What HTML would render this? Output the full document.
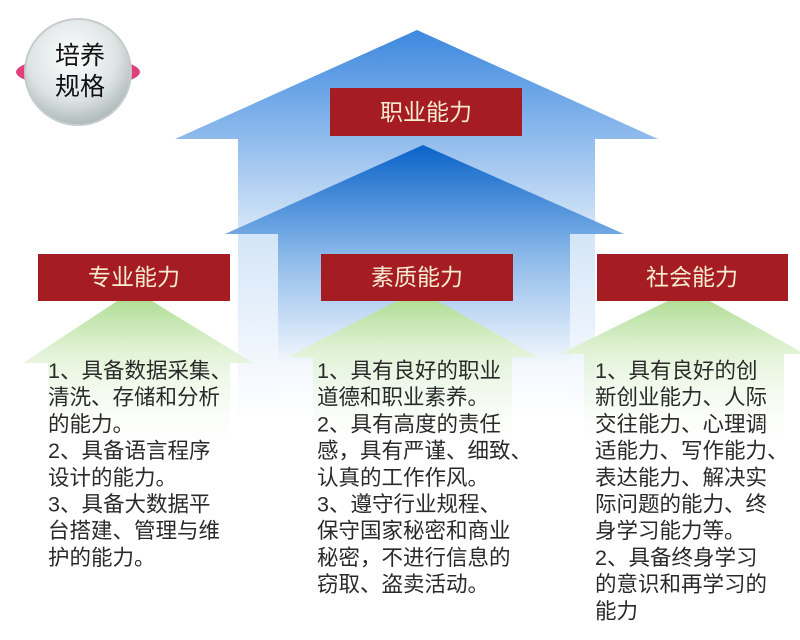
<!DOCTYPE html>
<html><head><meta charset="utf-8"><style>
body{margin:0;background:#fff;}
svg text{font-family:"Liberation Sans","Noto Sans CJK SC",sans-serif;}
</style></head><body>
<svg width="800" height="635" viewBox="0 0 800 635" xmlns="http://www.w3.org/2000/svg">
<defs>
<linearGradient id="b1" x1="0" y1="30" x2="0" y2="420" gradientUnits="userSpaceOnUse">
<stop offset="0" stop-color="#3d88df"/><stop offset="0.5" stop-color="#d2e4f7"/><stop offset="1" stop-color="#ffffff"/></linearGradient>
<linearGradient id="b2" x1="0" y1="145" x2="0" y2="420" gradientUnits="userSpaceOnUse">
<stop offset="0" stop-color="#0a63c9"/><stop offset="0.4" stop-color="#8ab8e9"/><stop offset="0.8" stop-color="#f4f8fd"/><stop offset="1" stop-color="#ffffff"/></linearGradient>
<linearGradient id="g" x1="0" y1="0" x2="0" y2="1">
<stop offset="0" stop-color="#a8d98a"/><stop offset="0.35" stop-color="#e0f2d4"/><stop offset="1" stop-color="#ffffff" stop-opacity="0"/></linearGradient>
<radialGradient id="c" cx="0.45" cy="0.35" r="0.7">
<stop offset="0" stop-color="#ffffff"/><stop offset="0.6" stop-color="#dde3e3"/><stop offset="1" stop-color="#a4b0b0"/></radialGradient>
</defs>
<polygon points="417,30 658,139 595,139 595,635 238,635 238,139 175,139" fill="url(#b1)"/>
<polygon points="423,145 624,234 570,234 570,635 278,635 278,234 225,234" fill="url(#b2)"/>
<polygon points="134,290 253,363 230,363 230,460 48,460 48,363 23,363" fill="url(#g)"/>
<polygon points="418,290 538,357 512,357 512,460 313,460 313,357 288,357" fill="url(#g)"/>
<polygon points="690,290 805,354 784,354 784,460 584,460 584,354 560,354" fill="url(#g)"/>
<g fill="#a51d22">
<rect x="330" y="88" width="192" height="48"/>
<rect x="38" y="254" width="192" height="47"/>
<rect x="321" y="254" width="192" height="47"/>
<rect x="597" y="254" width="191" height="47"/>
</g>
<g font-size="23" fill="#f7ecd2" text-anchor="middle">
<text x="426" y="120">职业能力</text>
<text x="134" y="285">专业能力</text>
<text x="417" y="285">素质能力</text>
<text x="692" y="285">社会能力</text>
</g>
<ellipse cx="78" cy="72" rx="62" ry="15" fill="#e0407a"/>
<circle cx="78" cy="72" r="53" fill="url(#c)" stroke="#c5cccc" stroke-width="2"/>
<text x="80" y="64" font-size="25" fill="#111" text-anchor="middle">培养</text>
<text x="80" y="95" font-size="25" fill="#111" text-anchor="middle">规格</text>
<g font-size="21.5" fill="#2a2a2a">
<text x="48" y="378">1、具备数据采集、</text>
<text x="48" y="404.7">清洗、存储和分析</text>
<text x="48" y="431.4">的能力。</text>
<text x="48" y="458.1">2、具备语言程序</text>
<text x="48" y="484.8">设计的能力。</text>
<text x="48" y="511.5">3、具备大数据平</text>
<text x="48" y="538.2">台搭建、管理与维</text>
<text x="48" y="564.9">护的能力。</text>
<text x="317" y="378">1、具有良好的职业</text>
<text x="317" y="404.7">道德和职业素养。</text>
<text x="317" y="431.4">2、具有高度的责任</text>
<text x="317" y="458.1">感，具有严谨、细致、</text>
<text x="317" y="484.8">认真的工作作风。</text>
<text x="317" y="511.5">3、遵守行业规程、</text>
<text x="317" y="538.2">保守国家秘密和商业</text>
<text x="317" y="564.9">秘密，不进行信息的</text>
<text x="317" y="591.6">窃取、盗卖活动。</text>
<text x="595" y="378">1、具有良好的创</text>
<text x="595" y="404.7">新创业能力、人际</text>
<text x="595" y="431.4">交往能力、心理调</text>
<text x="595" y="458.1">适能力、写作能力、</text>
<text x="595" y="484.8">表达能力、解决实</text>
<text x="595" y="511.5">际问题的能力、终</text>
<text x="595" y="538.2">身学习能力等。</text>
<text x="595" y="564.9">2、具备终身学习</text>
<text x="595" y="591.6">的意识和再学习的</text>
<text x="595" y="618.3">能力</text>
</g>
</svg>
</body></html>
